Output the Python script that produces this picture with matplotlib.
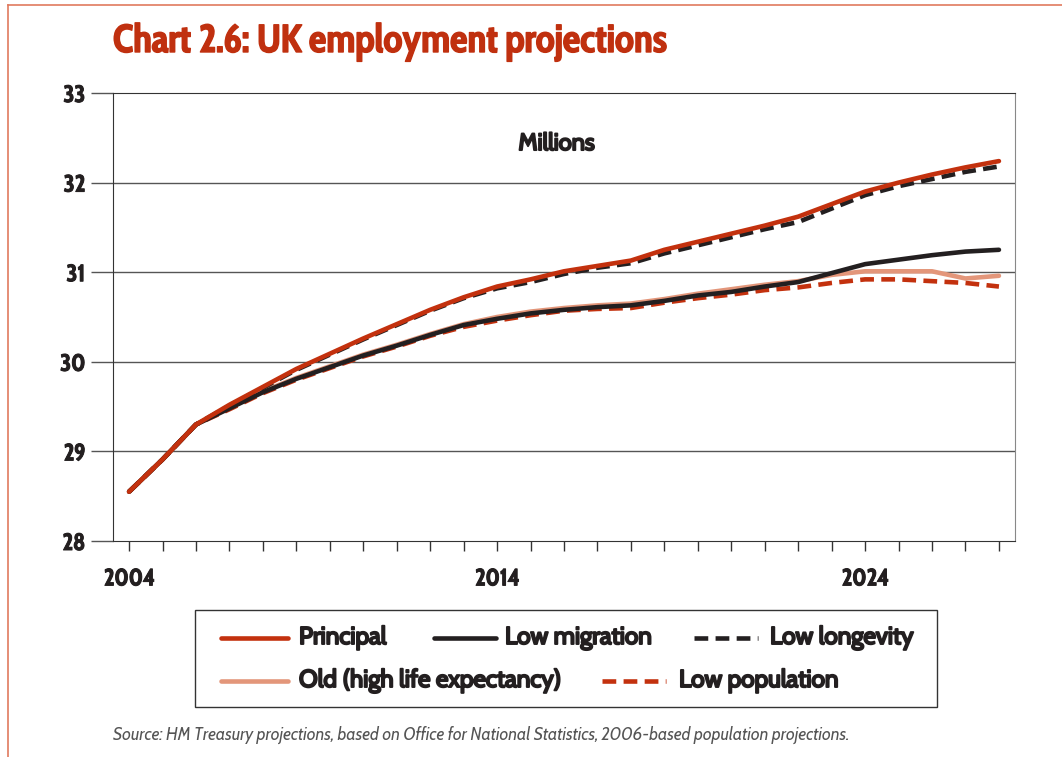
import matplotlib
matplotlib.use("Agg")
from matplotlib import pyplot as plt
from matplotlib import patheffects as pe
from matplotlib.lines import Line2D
from matplotlib.patches import Rectangle

# Data (millions), one point per tick from 2004
principal = [28.55, 28.91, 29.30, 29.52, 29.72, 29.92, 30.09, 30.26, 30.42, 30.58,
             30.72, 30.84, 30.92, 31.01, 31.07, 31.13, 31.25, 31.34, 31.43, 31.52,
             31.62, 31.76, 31.90, 32.00, 32.09, 32.17, 32.24]
low_migration = [28.55, 28.91, 29.30, 29.48, 29.66, 29.81, 29.94, 30.07, 30.18, 30.30,
                 30.41, 30.48, 30.54, 30.58, 30.61, 30.63, 30.68, 30.74, 30.78, 30.84,
                 30.89, 30.99, 31.09, 31.14, 31.19, 31.23, 31.25]
low_longevity = [28.55, 28.91, 29.30, 29.51, 29.71, 29.91, 30.08, 30.25, 30.41, 30.57,
                 30.71, 30.82, 30.89, 30.98, 31.05, 31.10, 31.21, 31.30, 31.39, 31.48,
                 31.56, 31.71, 31.86, 31.96, 32.04, 32.12, 32.18]
old_high_le = [28.55, 28.91, 29.30, 29.49, 29.67, 29.82, 29.95, 30.08, 30.19, 30.31,
               30.42, 30.50, 30.56, 30.60, 30.63, 30.65, 30.70, 30.76, 30.81, 30.86,
               30.90, 30.97, 31.01, 31.01, 31.01, 30.93, 30.96]
low_population = [28.55, 28.91, 29.30, 29.47, 29.65, 29.80, 29.93, 30.06, 30.17, 30.29,
                  30.39, 30.46, 30.52, 30.57, 30.59, 30.60, 30.66, 30.71, 30.75, 30.80,
                  30.83, 30.88, 30.92, 30.92, 30.90, 30.88, 30.84]

x_label_pos = [0, 11, 22]
x_labels = ["2004", "2014", "2024"]
y_ticks = [28, 29, 30, 31, 32, 33]

RED = "#C3310E"
BLACK = "#231F20"
SALMON = "#E3967A"

W, H = 1062, 757
fig = plt.figure(figsize=(W / 100, H / 100), dpi=100)

def fx(p):
    return p / W

def fy(p):
    return 1 - p / H

cond = ["Cabin Condensed", "DejaVu Sans"]
wide = ["Cabin", "DejaVu Sans"]

# thicken glyphs a little, the original face is heavier than what is installed
def heavy(col, w=0.7):
    return [pe.withStroke(linewidth=w, foreground=col)]

ax = fig.add_axes([fx(113), fy(541), fx(1015 - 113), fy(93) - fy(541)])

xs = list(range(len(principal)))
series = [
    ("Old (high life expectancy)", old_high_le, SALMON, "-"),
    ("Low population", low_population, RED, (0, (3, 1.6))),
    ("Low migration", low_migration, BLACK, "-"),
    ("Low longevity", low_longevity, BLACK, (0, (3, 1.6))),
    ("Principal", principal, RED, "-"),
]
for name, vals, col, ls in series:
    ax.plot(xs, vals, color=col, linestyle=ls, lw=3.3, solid_capstyle="round",
            dash_capstyle="butt", label=name)

ax.set_xlim(-0.48, 26.48)
ax.set_ylim(28, 33)
ax.set_yticks(y_ticks)
ax.set_yticklabels([str(v) for v in y_ticks], family=cond, fontsize=17, fontweight="bold",
                   color=BLACK, path_effects=heavy(BLACK))
ax.tick_params(axis="y", length=16, width=1, color="#555555", pad=4)
ax.set_xticks(xs)
ax.set_xticklabels([x_labels[x_label_pos.index(i)] if i in x_label_pos else "" for i in xs],
                   family=cond, fontsize=17, fontweight="bold", color=BLACK,
                   path_effects=heavy(BLACK))
ax.tick_params(axis="x", length=7, width=1, color="#333333", pad=12)
for yv in y_ticks[1:-1]:
    ax.axhline(yv, color="#555555", lw=1, zorder=0)
for s in ["left", "top", "bottom"]:
    ax.spines[s].set_color("#333333")
ax.spines["right"].set_color("#888888")

ax.text(0.492, 0.886, "Millions", transform=ax.transAxes, ha="center", va="center",
        family=wide, fontsize=17, color=BLACK, path_effects=heavy(BLACK, 1.4))

# Title and source
fig.text(fx(113), fy(42), "Chart 2.6: UK employment projections", family=cond,
         fontsize=28, fontweight="bold", color="#C0300F", va="center", ha="left",
         path_effects=heavy("#C0300F", 1.0))
fig.text(fx(113), fy(735), "Source: HM Treasury projections, based on Office for National "
         "Statistics, 2006-based population projections.", family=wide,
         fontsize=12.25, style="italic", color="#555555", va="center", ha="left")

# Page border lines
fig.add_artist(Line2D([fx(8), fx(8)], [0, fy(5)], transform=fig.transFigure, color="#E07A5F", lw=1.2))
fig.add_artist(Line2D([fx(8), 1], [fy(5), fy(5)], transform=fig.transFigure, color="#E07A5F", lw=1.2))

# Legend box built by hand to match the staggered layout
fig.add_artist(Rectangle((fx(195), fy(707)), fx(937 - 195), fy(610) - fy(707),
                         transform=fig.transFigure, fill=False, edgecolor="#333333", lw=1))
legend_slots = {
    "Principal": (221, 288, 299, 638),
    "Low migration": (434, 496, 505, 638),
    "Low longevity": (694, 758, 770, 638),
    "Old (high life expectancy)": (221, 288, 299, 681),
    "Low population": (602, 666, 679, 681),
}
for name, vals, col, ls in series:
    x0, x1, tx, ty = legend_slots[name]
    fig.add_artist(Line2D([fx(x0), fx(x1)], [fy(ty), fy(ty)], transform=fig.transFigure,
                          color=col, linestyle=ls, lw=3.3, solid_capstyle="round"))
    fig.text(fx(tx), fy(ty), name, family=wide, fontsize=17.5,
             color=BLACK, va="center", ha="left", path_effects=heavy(BLACK, 1.4))

fig.savefig("out.png", dpi=100)
